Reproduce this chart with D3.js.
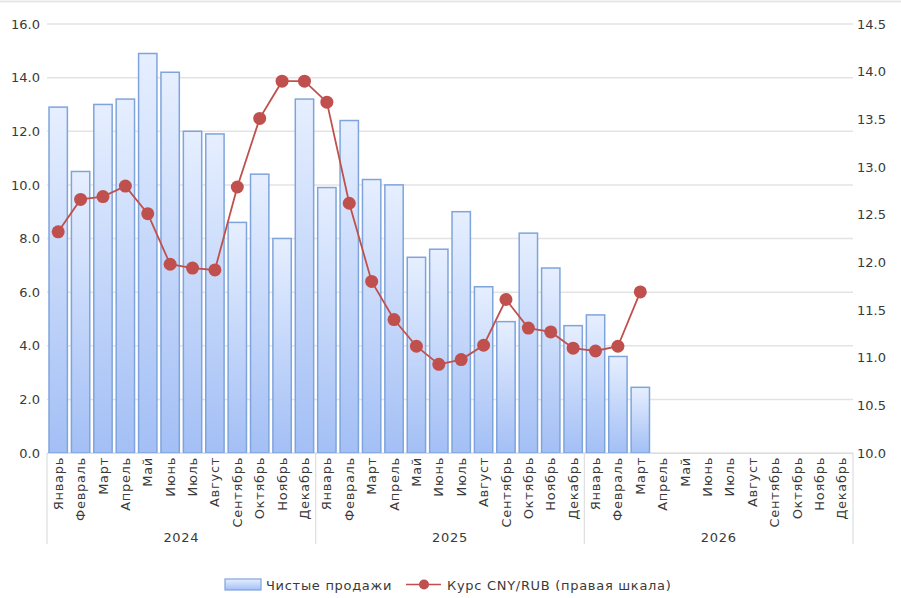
<!DOCTYPE html>
<html>
<head>
<meta charset="utf-8">
<script src="https://cdn.jsdelivr.net/npm/d3@7"></script>
<style>
  html,body{margin:0;padding:0;background:#fff;}
  svg{display:block;font-family:"DejaVu Sans",sans-serif;}
</style>
</head>
<body>
<svg id="chart" width="901" height="598"></svg>
<script>
/* Data */
const years=["2024","2025","2026"];
const months=["Январь","Февраль","Март","Апрель","Май","Июнь","Июль","Август","Сентябрь","Октябрь","Ноябрь","Декабрь"];
const sales=[12.9,10.5,13.0,13.2,14.9,14.2,12.0,11.9,8.6,10.4,8.0,13.2,
             9.9,12.4,10.2,10.0,7.3,7.6,9.0,6.2,4.9,8.2,6.9,4.75,
             5.15,3.6,2.45];
const rate=[12.32,12.66,12.69,12.80,12.51,11.98,11.94,11.92,12.79,13.51,13.90,13.90,
            13.68,12.62,11.80,11.40,11.12,10.93,10.98,11.13,11.61,11.31,11.27,11.10,
            11.07,11.12,11.69];
const leftTicks=[0,2,4,6,8,10,12,14,16];
const rightTicks=[10,10.5,11,11.5,12,12.5,13,13.5,14,14.5];
const legendLabels=["Чистые продажи","Курс CNY/RUB (правая шкала)"];

/* Layout */
const W=901,H=598;
const m={left:47,right:48,top:24,bottom:145};
const iw=W-m.left-m.right, ih=H-m.top-m.bottom;
const lineColor="#c0504d", barStroke="#7fa4dc", gridColor="#e3e3e3", textColor="#3a3a3a";
const fs=13, ls="0.7px";

const slots=[];
years.forEach(y=>months.forEach(mo=>slots.push({year:y,month:mo})));
const idx=d3.range(slots.length);

const x=d3.scaleBand().domain(idx).range([m.left,m.left+iw]).paddingInner(0.18).paddingOuter(0.09);
const yL=d3.scaleLinear().domain([0,16]).range([m.top+ih,m.top]);
const yR=d3.scaleLinear().domain([10,14.5]).range([m.top+ih,m.top]);
const cx=i=>x(i)+x.bandwidth()/2;

const svg=d3.select("#chart");

/* gradient for bars */
const defs=svg.append("defs");
const grad=defs.append("linearGradient").attr("id","barGrad").attr("x1",0).attr("y1",0).attr("x2",0).attr("y2",1);
grad.append("stop").attr("offset","0%").attr("stop-color","#e6efff");
grad.append("stop").attr("offset","100%").attr("stop-color","#a3bff5");

/* top frame line */
svg.append("line").attr("x1",0).attr("x2",W).attr("y1",1.5).attr("y2",1.5).attr("stroke","#e6e6e6").attr("stroke-width",2);

/* grid */
svg.append("g").selectAll("line").data(leftTicks).enter().append("line")
  .attr("x1",m.left).attr("x2",m.left+iw)
  .attr("y1",d=>yL(d)).attr("y2",d=>yL(d))
  .attr("stroke",gridColor).attr("stroke-width",1.5);

/* left axis */
const axL=svg.append("g").attr("transform",`translate(${m.left-7},0)`)
  .call(d3.axisLeft(yL).tickValues(leftTicks).tickFormat(d3.format(".1f")).tickSize(0).tickPadding(0));
axL.select(".domain").remove();
axL.selectAll("text").attr("font-size",fs).attr("fill",textColor).attr("font-family","DejaVu Sans");

/* right axis */
const axR=svg.append("g").attr("transform",`translate(${m.left+iw+4},0)`)
  .call(d3.axisRight(yR).tickValues(rightTicks).tickFormat(d3.format(".1f")).tickSize(0).tickPadding(0));
axR.select(".domain").remove();
axR.selectAll("text").attr("font-size",fs).attr("fill",textColor).attr("font-family","DejaVu Sans");

/* bars */
svg.append("g").selectAll("rect").data(sales).enter().append("rect")
  .attr("x",(d,i)=>x(i)).attr("width",x.bandwidth())
  .attr("y",d=>yL(d)).attr("height",d=>yL(0)-yL(d))
  .attr("fill","url(#barGrad)").attr("stroke",barStroke).attr("stroke-width",1.5);

/* baseline */
svg.append("line").attr("x1",m.left).attr("x2",m.left+iw).attr("y1",yL(0)+0.5).attr("y2",yL(0)+0.5)
  .attr("stroke","#dcdcdc").attr("stroke-width",1);

/* line */
const line=d3.line().x((d,i)=>cx(i)).y(d=>yR(d));
svg.append("path").datum(rate).attr("d",line).attr("fill","none").attr("stroke",lineColor).attr("stroke-width",1.8);
svg.append("g").selectAll("circle").data(rate).enter().append("circle")
  .attr("cx",(d,i)=>cx(i)).attr("cy",d=>yR(d)).attr("r",6.5).attr("fill",lineColor);

/* x month labels */
const base=yL(0);
svg.append("g").selectAll("text").data(slots).enter().append("text")
  .attr("transform",(d,i)=>`translate(${cx(i)},${base+4}) rotate(-90)`)
  .attr("dy","0.35em").attr("text-anchor","end").attr("letter-spacing",ls)
  .attr("font-size",fs).attr("fill",textColor).text(d=>d.month);

/* year groups */
const step=x.step();
const groupEdges=d3.range(years.length+1).map(k=>m.left+k*12*step);
svg.append("g").selectAll("line").data(groupEdges).enter().append("line")
  .attr("x1",d=>d).attr("x2",d=>d).attr("y1",base).attr("y2",base+91)
  .attr("stroke","#dedede").attr("stroke-width",1.2);
svg.append("g").selectAll("text").data(years).enter().append("text")
  .attr("x",(d,k)=>(groupEdges[k]+groupEdges[k+1])/2).attr("y",base+89)
  .attr("text-anchor","middle").attr("letter-spacing",ls).attr("font-size",fs).attr("fill",textColor).text(d=>d);

/* legend */
const lg=svg.append("g");
lg.append("rect").attr("x",225).attr("y",579).attr("width",36).attr("height",11)
  .attr("fill","url(#barGrad)").attr("stroke",barStroke).attr("stroke-width",1.2);
lg.append("text").attr("x",266).attr("y",589.5).attr("letter-spacing",ls).attr("font-size",fs).attr("fill",textColor).text(legendLabels[0]);
lg.append("line").attr("x1",406).attr("x2",441).attr("y1",584.5).attr("y2",584.5).attr("stroke",lineColor).attr("stroke-width",1.5);
lg.append("circle").attr("cx",424).attr("cy",584.5).attr("r",5).attr("fill",lineColor);
lg.append("text").attr("x",447).attr("y",589.5).attr("letter-spacing",ls).attr("font-size",fs).attr("fill",textColor).text(legendLabels[1]);
</script>
</body>
</html>
